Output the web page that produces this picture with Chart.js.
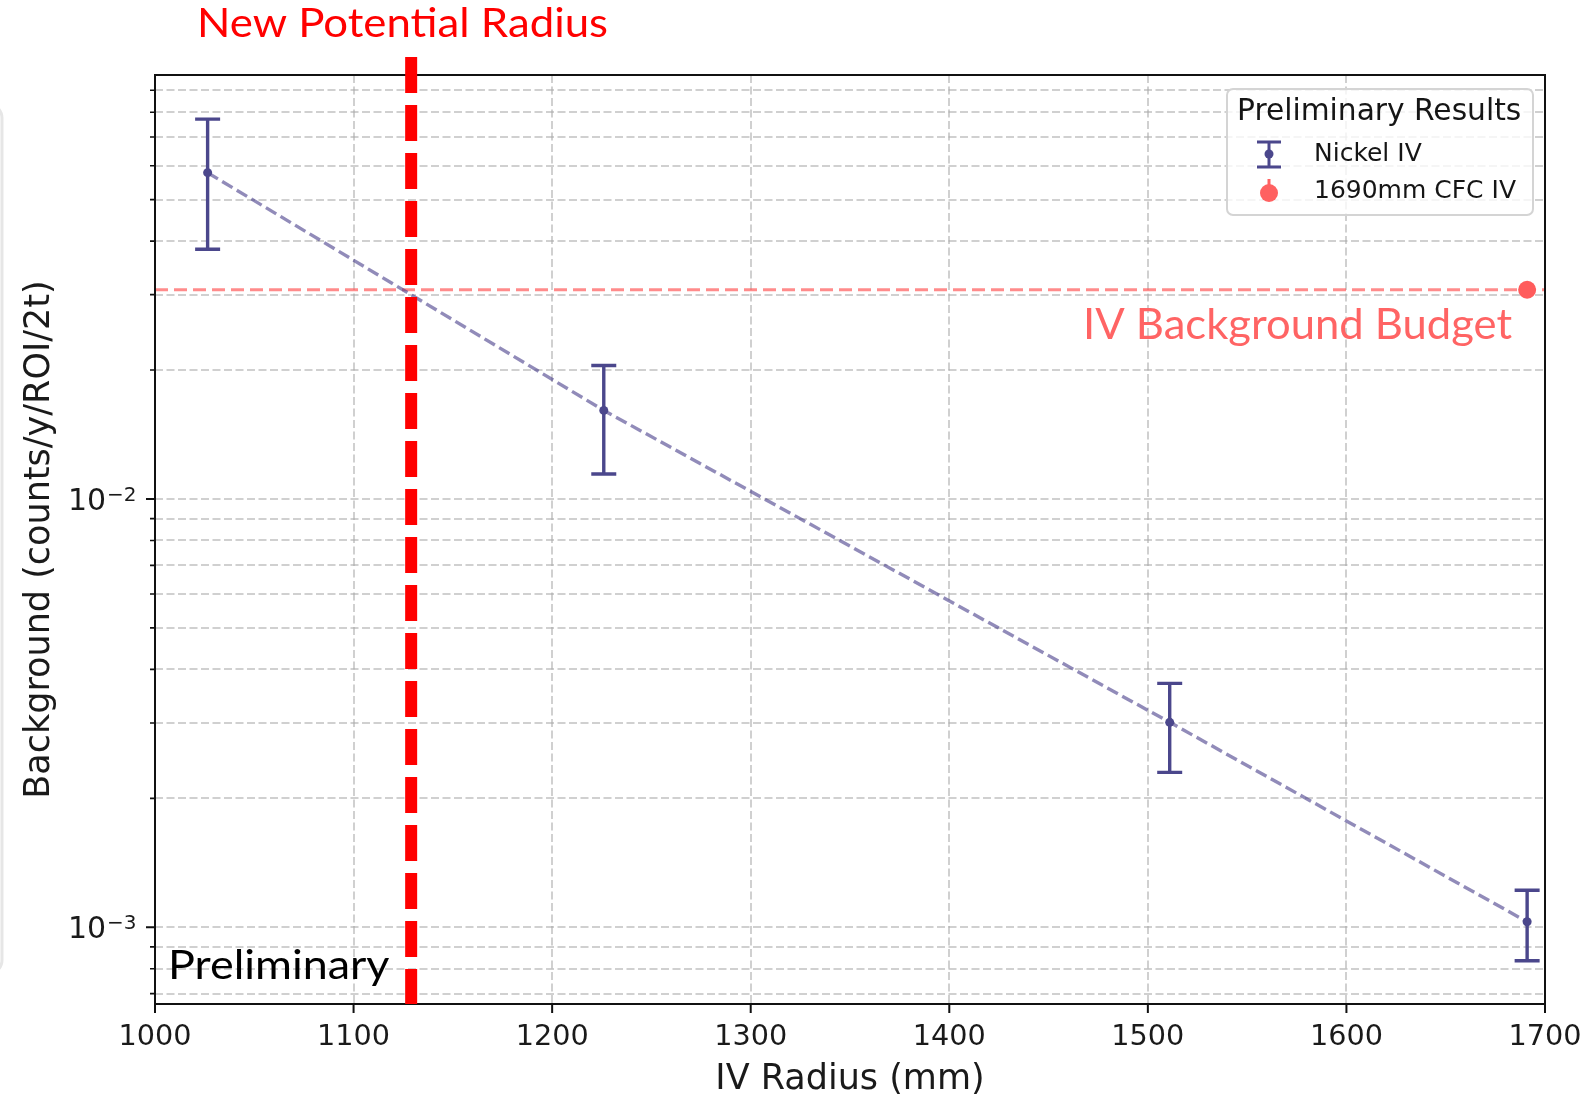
<!DOCTYPE html>
<html>
<head>
<meta charset="utf-8">
<script src="https://cdn.jsdelivr.net/npm/chart.js@4.4.1/dist/chart.umd.min.js"></script>
<style>
  html, body { margin: 0; padding: 0; background: #fff; }
  #wrap { width: 1595px; height: 1097px; position: relative; }
</style>
</head>
<body>
<div id="wrap"><canvas id="bg-chart"></canvas></div>
<script>
// nickel IV measurements (radius in mm, background in counts/y/ROI/2t)
const radii = [1026.5, 1226, 1511, 1691];
const background = [0.0578, 0.0161, 0.00301, 0.00103];
const errLow = [0.0383, 0.01144, 0.0023, 0.000835];
const errHigh = [0.0771, 0.0205, 0.00371, 0.00122];

// CFC point and budget
const cfcRadius = [1691];
const cfcBackground = [0.0308];
const budget = 0.0308;
const budgetRange = [1000, 1700];
const newRadius = 1129;

// axes
const xTicks = [1000, 1100, 1200, 1300, 1400, 1500, 1600, 1700];
const yMajorTicks = [0.001, 0.01];
const yTickExps = ["\u22123", "\u22122"];
const yMinorTicks = [
  0.0007, 0.0008, 0.0009,
  0.002, 0.003, 0.004, 0.005, 0.006, 0.007, 0.008, 0.009,
  0.02, 0.03, 0.04, 0.05, 0.06, 0.07, 0.08, 0.09
];
const yMin = 0.000662;
const yMax = 0.09772;

const nickelColor = "#4b478c";
const budgetColor = "#ff6161";
const axisFont = '"DejaVu Sans"';
const noteFont = 'Lato';

function fitText(ctx, text, x0, x1, baseline, capH, color) {
  ctx.save();
  ctx.font = "100px " + noteFont;
  const capRatio = ctx.measureText("H").actualBoundingBoxAscent / 100;
  const size = capH / capRatio;
  ctx.font = size + "px " + noteFont;
  const w = ctx.measureText(text).width;
  ctx.translate(x0, baseline);
  ctx.scale((x1 - x0) / w, 1);
  ctx.fillStyle = color;
  ctx.textAlign = "left";
  ctx.textBaseline = "alphabetic";
  ctx.fillText(text, 0, 0);
  ctx.restore();
}

const overlay = {
  id: "overlay",

  beforeDatasetsDraw(chart) {
    const ctx = chart.ctx;
    const xs = chart.scales.x;
    const ys = chart.scales.y;

    // error bars
    ctx.save();
    ctx.strokeStyle = nickelColor;
    ctx.lineWidth = 3.4;
    radii.forEach(function(r, i) {
      const x = xs.getPixelForValue(r);
      const yTop = ys.getPixelForValue(errHigh[i]);
      const yBot = ys.getPixelForValue(errLow[i]);
      ctx.beginPath();
      ctx.moveTo(x, yTop);
      ctx.lineTo(x, yBot);
      ctx.moveTo(x - 12.5, yTop);
      ctx.lineTo(x + 12.5, yTop);
      ctx.moveTo(x - 12.5, yBot);
      ctx.lineTo(x + 12.5, yBot);
      ctx.stroke();
    });
    ctx.restore();
  },

  afterDatasetsDraw(chart) {
    const ctx = chart.ctx;
    const a = chart.chartArea;
    const xs = chart.scales.x;
    const ys = chart.scales.y;

    ctx.save();
    ctx.strokeStyle = "#111";

    // tick marks
    ctx.lineWidth = 2;
    ctx.beginPath();
    xTicks.forEach(function(v) {
      const x = xs.getPixelForValue(v);
      ctx.moveTo(x, a.bottom);
      ctx.lineTo(x, a.bottom + 9);
    });
    yMajorTicks.forEach(function(v) {
      const y = ys.getPixelForValue(v);
      ctx.moveTo(a.left, y);
      ctx.lineTo(a.left - 9, y);
    });
    ctx.stroke();
    ctx.lineWidth = 1.6;
    ctx.beginPath();
    yMinorTicks.forEach(function(v) {
      const y = ys.getPixelForValue(v);
      ctx.moveTo(a.left, y);
      ctx.lineTo(a.left - 5, y);
    });
    ctx.stroke();

    // frame
    ctx.lineWidth = 2;
    ctx.strokeRect(a.left, a.top, a.right - a.left, a.bottom - a.top);

    // y tick labels 10^n
    ctx.fillStyle = "#1a1a1a";
    ctx.textAlign = "left";
    ctx.textBaseline = "alphabetic";
    yMajorTicks.forEach(function(v, i) {
      const y = ys.getPixelForValue(v);
      ctx.font = "30px " + axisFont;
      ctx.fillText("10", 68, y + 11);
      ctx.font = "20px " + axisFont;
      ctx.fillText(yTickExps[i], 107, y + 2);
    });
    ctx.restore();
  },

  afterDraw(chart) {
    const ctx = chart.ctx;
    const a = chart.chartArea;
    const xs = chart.scales.x;

    // legend
    ctx.save();
    ctx.beginPath();
    ctx.roundRect(1227, 89, 306, 126, 6);
    ctx.fillStyle = "rgba(255,255,255,0.8)";
    ctx.fill();
    ctx.strokeStyle = "#d4d4d4";
    ctx.lineWidth = 2;
    ctx.stroke();

    ctx.fillStyle = "#151515";
    ctx.textAlign = "left";
    ctx.textBaseline = "middle";
    ctx.font = "29.7px " + axisFont;
    ctx.fillText("Preliminary Results", 1237, 112);
    ctx.font = "25px " + axisFont;
    ctx.fillText(chart.data.datasets[0].label, 1314, 154);
    ctx.fillText(chart.data.datasets[1].label, 1314, 191);

    ctx.strokeStyle = nickelColor;
    ctx.lineWidth = 3;
    ctx.beginPath();
    ctx.moveTo(1269, 142);
    ctx.lineTo(1269, 167);
    ctx.moveTo(1257, 142);
    ctx.lineTo(1281, 142);
    ctx.moveTo(1257, 167);
    ctx.lineTo(1281, 167);
    ctx.stroke();
    ctx.fillStyle = nickelColor;
    ctx.beginPath();
    ctx.arc(1269, 154, 4.5, 0, Math.PI * 2);
    ctx.fill();

    ctx.strokeStyle = budgetColor;
    ctx.beginPath();
    ctx.moveTo(1269, 179);
    ctx.lineTo(1269, 187);
    ctx.stroke();
    ctx.fillStyle = budgetColor;
    ctx.beginPath();
    ctx.arc(1269, 193, 9, 0, Math.PI * 2);
    ctx.fill();
    ctx.restore();

    // slide edge at far left
    ctx.save();
    ctx.strokeStyle = "#e6e6e6";
    ctx.lineWidth = 3;
    ctx.beginPath();
    ctx.roundRect(-40, 104, 42, 870, 14);
    ctx.stroke();
    ctx.restore();

    // annotations
    fitText(ctx, "Preliminary", 168, 389.5, 979.3, 30, "#000");
    fitText(ctx, "IV Background Budget", 1083, 1512, 339, 30.6, "#ff6464");
    fitText(ctx, "New Potential Radius", 197, 608, 36.7, 29.4, "#ff0000");

    // new radius marker line
    const xr = xs.getPixelForValue(newRadius);
    ctx.save();
    ctx.strokeStyle = "#ff0000";
    ctx.lineWidth = 12;
    ctx.setLineDash([36, 12]);
    ctx.beginPath();
    ctx.moveTo(xr, 57);
    ctx.lineTo(xr, a.bottom);
    ctx.stroke();
    ctx.restore();
  }
};

const gridColor = "rgba(170,170,170,0.55)";

new Chart(document.getElementById("bg-chart"), {
  type: "scatter",
  data: {
    datasets: [
      {
        label: "Nickel IV",
        data: radii.map(function(r, i) { return { x: r, y: background[i] }; }),
        showLine: true,
        borderColor: "rgba(72,61,139,0.6)",
        borderDash: [12, 5],
        borderWidth: 3.4,
        pointRadius: 4.5,
        pointBackgroundColor: nickelColor,
        pointBorderWidth: 0
      },
      {
        label: "1690mm CFC IV",
        data: cfcRadius.map(function(r, i) { return { x: r, y: cfcBackground[i] }; }),
        pointRadius: 9,
        pointBackgroundColor: "#ff5c5c",
        pointBorderWidth: 0
      },
      {
        label: "IV Background Budget",
        data: budgetRange.map(function(x) { return { x: x, y: budget }; }),
        showLine: true,
        borderColor: "rgba(255,90,90,0.7)",
        borderDash: [13, 6],
        borderWidth: 3,
        pointRadius: 0
      }
    ]
  },
  options: {
    responsive: true,
    maintainAspectRatio: false,
    animation: false,
    devicePixelRatio: 1,
    layout: {
      padding: { top: 75, right: 50, bottom: 0, left: 0 }
    },
    plugins: {
      legend: { display: false },
      tooltip: { enabled: false }
    },
    scales: {
      x: {
        type: "linear",
        min: 1000,
        max: 1700,
        afterBuildTicks: function(scale) {
          scale.ticks = xTicks.map(function(v) { return { value: v }; });
        },
        afterFit: function(scale) {
          scale.height = 93;
          scale.paddingLeft = 0;
          scale.paddingRight = 0;
        },
        ticks: {
          padding: 16,
          color: "#1a1a1a",
          font: { family: "DejaVu Sans", size: 28.7 },
          callback: function(value) { return String(value); }
        },
        grid: { color: gridColor, lineWidth: 2, drawTicks: false },
        border: { display: false, dash: [8, 3.5] },
        title: {
          display: true,
          text: "IV Radius (mm)",
          color: "#1a1a1a",
          font: { family: "DejaVu Sans", size: 35, lineHeight: 0.9 },
          padding: { top: 0, bottom: 1 }
        }
      },
      y: {
        type: "logarithmic",
        min: yMin,
        max: yMax,
        afterBuildTicks: function(scale) {
          scale.ticks = yMinorTicks.concat(yMajorTicks).map(function(v) { return { value: v }; });
        },
        afterFit: function(scale) {
          scale.width = 155;
          scale.paddingTop = 0;
          scale.paddingBottom = 0;
        },
        ticks: {
          callback: function() { return ""; }
        },
        grid: { color: gridColor, lineWidth: 2, drawTicks: false },
        border: { display: false, dash: [8, 3.5] },
        title: {
          display: true,
          text: "Background (counts/y/ROI/2t)",
          color: "#1a1a1a",
          font: { family: "DejaVu Sans", size: 35, lineHeight: 0.9 },
          padding: { top: 24, bottom: 0 }
        }
      }
    }
  },
  plugins: [overlay]
});
</script>
</body>
</html>
